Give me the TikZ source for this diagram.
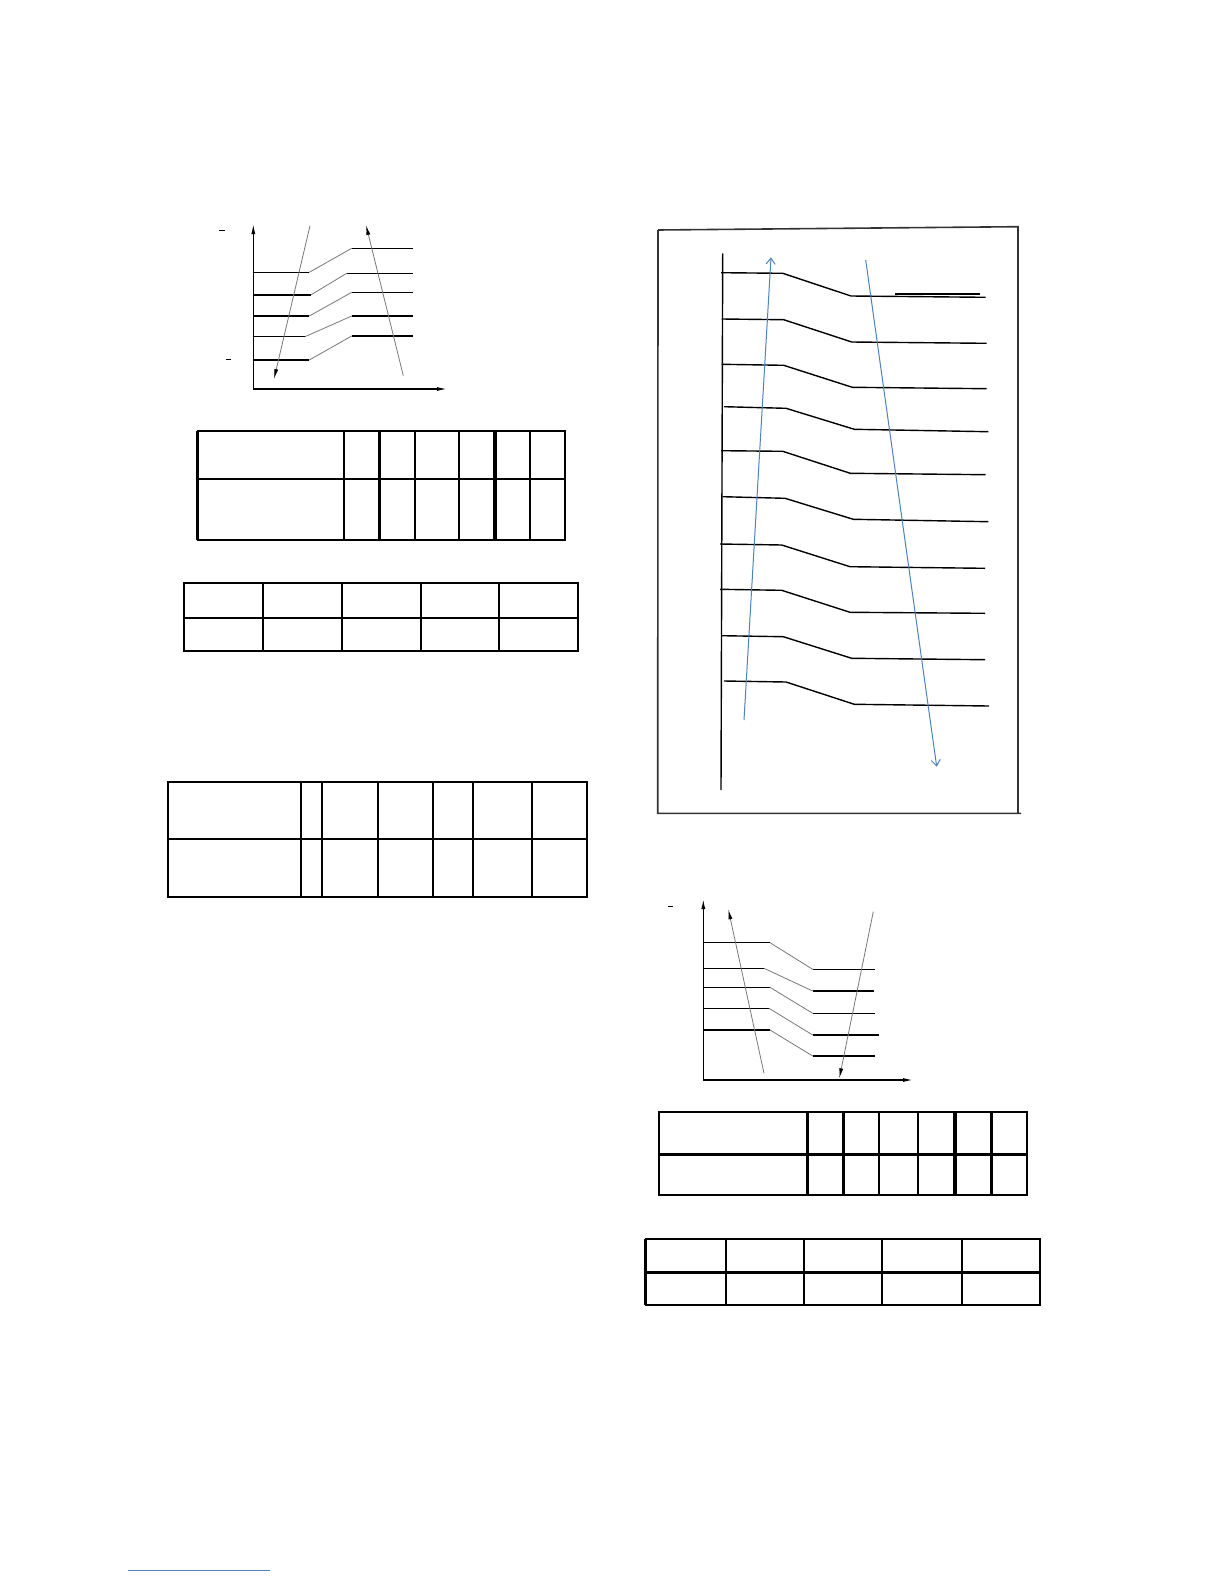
\documentclass[tikz,border=0pt]{standalone}
\usetikzlibrary{arrows.meta}
\definecolor{arrblue}{RGB}{79,129,189}
\definecolor{slgray}{RGB}{120,120,120}
\begin{document}
\begin{tikzpicture}[x=1pt,y=-1pt,
  blk/.style={black,line width=1.4pt},
  slant/.style={slgray,line width=0.8pt},
  garrow/.style={slgray,line width=0.8pt,-{Latex[length=10pt,width=4pt,black]}},
  axis/.style={black,line width=1.2pt,-{Latex[length=10pt,width=4pt]}},
  barrow/.style={arrblue,line width=1pt,-{Straight Barb[length=6pt,width=9pt]}},
  tab/.style={black,line width=1.8pt},
  tabthick/.style={black,line width=3.2pt},
  dashmark/.style={black,line width=1pt},
  frame/.style={black!80,line width=1.6pt}]
\useasboundingbox (0,0) rectangle (1224,1584);
\fill[white] (0,0) rectangle (1224,1584);

% ===== top-left diagram =====
\draw[axis] (253.3,390) -- (253.3,224);
\draw[axis] (253.3,389) -- (447,389);
\draw[dashmark] (219.3,230) -- (224.5,230);
\draw[dashmark] (226,359.3) -- (231,359.3);
\foreach \ya/\xa/\xb/\yb in {272.3/309.3/351.7/248.3, 295/310.7/346.7/273.3, 316/309.3/351.7/292.3, 336.7/305/351.7/316, 360/309.3/351.7/336}{
  \draw[blk] (253.3,\ya) -- (\xa,\ya);
  \draw[slant] (\xa,\ya) -- (\xb,\yb);
  \draw[blk] (\xb,\yb) -- (413.3,\yb);
}
\draw[garrow] (310,225.7) -- (274,379);
\draw[garrow] (403.3,375.7) -- (366,225);

% ===== table 1 =====
\draw[tab] (197.7,430.7) rectangle (565,540);
\draw[tab] (197.7,479.3) -- (565,479.3);
\draw[tabthick] (197.7,430.7) -- (197.7,540);
\foreach \x in {344.3,415,459.3,530.3}{\draw[tab] (\x,430.7) -- (\x,540);}
\foreach \x in {379.3,495}{\draw[tabthick] (\x,430.7) -- (\x,540);}

% ===== table 2 =====
\draw[tab] (184.3,583.3) rectangle (578.3,651);
\draw[tab] (184.3,618.3) -- (578.3,618.3);
\foreach \x in {263.3,342.3,420.7,499.3}{\draw[tab] (\x,583.3) -- (\x,651);}

% ===== table 3 =====
\draw[tab] (168.3,782.3) rectangle (587.3,897);
\draw[tab] (168.3,839.3) -- (587.3,839.3);
\foreach \x in {300.7,322.3,378.3,433.3,473.3,532.3}{\draw[tab] (\x,782.3) -- (\x,897);}

% ===== right framed diagram =====
\draw[frame] (658,230) -- (1018,226.7) -- (1018,813.3);
\draw[frame] (658,230) -- (657.7,813.3) -- (1021,813.3);
\draw[black,line width=1.4pt] (722.7,253.3) -- (721,790);
\foreach \xa/\ya/\xb/\yb/\xc/\yc/\xd/\yd in {
  721/272.7/782.7/273.3/851/296/985.7/297.3,
  721.7/319/783.7/319.7/851.7/342/986.7/343.3,
  721.7/364.3/783.7/365.3/852.3/387.3/986.7/388.7,
  724/406.7/786/408.3/854.3/429.3/988.3/431.7,
  721/450.7/782.7/451.3/850.3/473.3/985.7/474.7,
  722.7/496.7/785/498.3/853.3/519.3/988.3/521.7,
  720/544/781.7/545/850/566.7/985/568.3,
  720/589.3/781.7/590.3/850/612.3/985/613.3,
  721.7/635.7/783.3/636.7/851.7/658.3/985/659.7,
  724/681/786/682/854.3/704.3/989/706}{
  \draw[blk] (\xa,\ya) -- (\xb,\yb) -- (\xc,\yc) -- (\xd,\yd);
}
\draw[blk] (895,294) -- (980,294);
\draw[barrow] (744,720) -- (771,257.3);
\draw[barrow] (865.7,260) -- (936.7,766.7);

% ===== bottom-right diagram =====
\draw[axis] (703.3,1080) -- (703.3,899);
\draw[axis] (703.3,1080) -- (913,1080);
\draw[dashmark] (668.3,906) -- (673,906);
\foreach \ya/\xa/\yb/\xe in {942.7/770/969.3/875, 968.3/764/991/874, 987.3/770/1013.3/875, 1008.3/769/1035/879, 1030/770/1056/875}{
  \draw[blk] (703.3,\ya) -- (\xa,\ya);
  \draw[slant] (\xa,\ya) -- (812.7,\yb);
  \draw[blk] (812.7,\yb) -- (\xe,\yb);
}
\draw[garrow] (764,1073.3) -- (728.3,909.3);
\draw[garrow] (873.3,911.7) -- (839.3,1078.3);

% ===== table 4 =====
\draw[tab] (659,1111.7) rectangle (1027,1195);
\draw[tabthick] (659,1154.3) -- (1027,1154.3);
\foreach \x in {879.3,918.3}{\draw[tab] (\x,1111.7) -- (\x,1195);}
\foreach \x in {807.3,843.3,955,991.7}{\draw[tabthick] (\x,1111.7) -- (\x,1195);}

% ===== table 5 =====
\draw[tab] (645.7,1239.3) rectangle (1040,1305);
\draw[tabthick] (645.7,1239.3) -- (645.7,1305);
\draw[tabthick] (645.7,1272.3) -- (1040,1272.3);
\foreach \x in {725.7,804.3,882.3,961.7}{\draw[tab] (\x,1239.3) -- (\x,1305);}

% ===== footnote rule =====
\draw[arrblue,line width=0.8pt] (128,1570) -- (270,1570);
\end{tikzpicture}
\end{document}
